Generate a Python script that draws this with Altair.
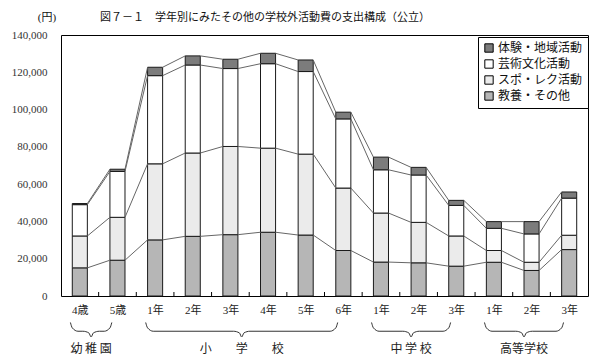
import altair as alt
import pandas as pd

# ---- data ----
categories = ["4歳", "5歳", "1年", "2年", "3年", "4年", "5年", "6年",
              "1年", "2年", "3年", "1年", "2年", "3年"]
kyoyo = [15100, 19200, 30100, 32000, 32900, 34200, 32700, 24400, 18200, 17800, 16000, 18100, 13700, 24900]
supo = [17100, 23000, 40800, 44700, 47300, 45100, 43400, 33500, 26300, 21700, 16200, 6300, 4400, 7700]
geijutsu = [16800, 24600, 47300, 47200, 41800, 45300, 44300, 37100, 23200, 25400, 16400, 11900, 15200, 19900]
taiken = [600, 1200, 4500, 4900, 5000, 5600, 6200, 3600, 6800, 4100, 2700, 3600, 6600, 3300]
series_names = ["教養・その他", "スポ・レク活動", "芸術文化活動", "体験・地域活動"]
legend_order = ["体験・地域活動", "芸術文化活動", "スポ・レク活動", "教養・その他"]
legend_colors = ["#7c7c7c", "#ffffff", "#ebebeb", "#b6b6b6"]
groups = ["幼 稚 園", "小　　学　　校", "中 学 校", "高等学校"]
group_start = [0, 2, 8, 11]
group_end = [1, 7, 10, 13]
y_ticks = [0, 20000, 40000, 60000, 80000, 100000, 120000, 140000]
title_text = "図７－１　学年別にみたその他の学校外活動費の支出構成（公立）"
unit_text = "(円)"

W, H = 527, 261
HALF = 0.2
FONT_MIX = "Liberation Serif, Noto Sans CJK JP"
FONT_JP = "Noto Sans CJK JP"

n = len(categories)
values = [kyoyo, supo, geijutsu, taiken]

# stacked segments
rows = []
cum = [[0] * n]
for s, vals in zip(series_names, values):
    prev = cum[-1]
    new = [p + v for p, v in zip(prev, vals)]
    for i in range(n):
        rows.append({"i": i, "xl": i - HALF, "xr": i + HALF, "y0": prev[i], "y1": new[i], "series": s})
    cum.append(new)
bars_df = pd.DataFrame(rows)

# series lines between adjacent bars
lrows = []
for k in range(1, len(cum)):
    lev = cum[k]
    for i in range(n - 1):
        lrows.append({"xl": i + HALF, "xr": i + 1 - HALF, "y0": lev[i], "y1": lev[i + 1], "lev": k})
lines_df = pd.DataFrame(lrows)

ticks_df = pd.DataFrame({"xl": [i + 0.5 for i in range(n - 1)]})

# braces under groups
brace_rows = []
label_rows = []
top_v, mid_v, tip_v = -14200, -18900, -22000
for g, a0, b0 in zip(groups, group_start, group_end):
    a, b = a0 - 0.25, b0 - 0.15
    c = (a + b) / 2
    pts = [(a, top_v), (a + 0.05, mid_v + 1800), (a + 0.2, mid_v), (c - 0.22, mid_v),
           (c - 0.06, mid_v - 900), (c, tip_v), (c + 0.06, mid_v - 900), (c + 0.22, mid_v),
           (b - 0.2, mid_v), (b - 0.05, mid_v + 1800), (b, top_v)]
    for j, (px, py) in enumerate(pts):
        brace_rows.append({"g": g, "xl": px, "y0": py, "o": j})
    label_rows.append({"g": g, "xl": c})
brace_df = pd.DataFrame(brace_rows)
glabel_df = pd.DataFrame(label_rows)

xscale = alt.Scale(domain=[-0.5, n - 0.5], nice=False, zero=False)
yscale = alt.Scale(domain=[0, 140000], nice=False, zero=False)

label_expr = "[" + ",".join("'" + c + "'" for c in categories) + "][datum.value]"

x_axis = alt.Axis(values=list(range(n)), labelExpr=label_expr, ticks=False, tickSize=0,
                  domain=False, grid=False, labelPadding=8, labelFont=FONT_MIX,
                  labelFontSize=11, labelColor="#222", labelAngle=0, title=None)
y_axis = alt.Axis(values=y_ticks, labelExpr="format(datum.value, ',')", ticks=False, tickSize=0,
                  domain=False, grid=False, labelPadding=14, labelFont="Liberation Serif",
                  labelFontSize=11, labelColor="#333", title=None)

X = lambda f="xl:Q": alt.X(f, scale=xscale, axis=x_axis, title=None)
Y = lambda f="y0:Q": alt.Y(f, scale=yscale, axis=y_axis, title=None)

bars = alt.Chart(bars_df).mark_bar(stroke="#1a1a1a", strokeWidth=1).encode(
    x=X(), x2="xr:Q", y=Y(), y2="y1:Q",
    color=alt.Color("series:N",
                    scale=alt.Scale(domain=legend_order, range=legend_colors),
                    legend=alt.Legend(title=None, orient="none", legendX=417, legendY=2,
                                      fillColor="white", strokeColor="black", padding=5,
                                      symbolType="square", symbolSize=70,
                                      symbolStrokeColor="black", symbolStrokeWidth=1,
                                      symbolOpacity=1, labelFont=FONT_JP, labelFontSize=12,
                                      labelColor="#111", rowPadding=2, labelOffset=3)),
)

series_lines = alt.Chart(lines_df).mark_rule(color="#666", strokeWidth=1).encode(
    x=X(), x2="xr:Q", y=Y(), y2="y1:Q",
)

ticks = alt.Chart(ticks_df).mark_rule(color="black", strokeWidth=1).encode(
    x=X(), y=alt.value(H), y2=alt.value(H - 4),
)

braces = alt.Chart(brace_df).mark_line(color="#333", strokeWidth=1, interpolate="monotone").encode(
    x=X(), y=Y(), detail="g:N", order="o:Q",
)

glabels = alt.Chart(glabel_df).mark_text(font=FONT_JP, fontSize=12, color="#222", baseline="middle").encode(
    x=X(), y=alt.value(314), text="g:N",
)

title = alt.Chart(pd.DataFrame({"t": [title_text]})).mark_text(
    font=FONT_MIX, fontSize=11, align="left", baseline="middle", color="#111"
).encode(x=alt.value(39), y=alt.value(-17), text="t:N")

unit = alt.Chart(pd.DataFrame({"t": [unit_text]})).mark_text(
    font=FONT_MIX, fontSize=11, align="center", baseline="middle", color="#111"
).encode(x=alt.value(-14), y=alt.value(-17), text="t:N")

chart = alt.layer(bars, series_lines, ticks, braces, glabels, title, unit).properties(
    width=W, height=H,
    autosize=alt.AutoSizeParams(type="none"),
    padding={"left": 53, "top": 27, "right": 9, "bottom": 60},
    background="white",
).configure_view(stroke="black", strokeWidth=1)

chart.save("out.html", embed_options={"renderer": "svg", "actions": False})
